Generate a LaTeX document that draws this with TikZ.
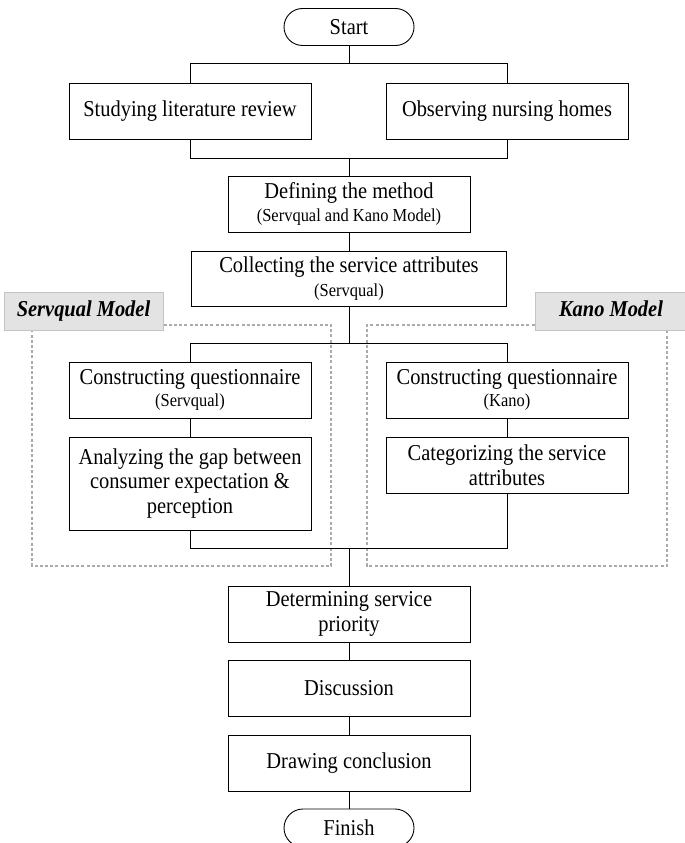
\documentclass[tikz,border=0pt]{standalone}
\usepackage{fontspec}
\setmainfont{Liberation Serif}[FakeStretch=0.9]
\usetikzlibrary{shapes.misc}
\definecolor{lblfill}{HTML}{E3E3E3}
\definecolor{lbldraw}{HTML}{C4C4C4}
\definecolor{dashgray}{HTML}{ABABAB}
\newcommand{\smalltxt}{\fontsize{18.3}{21}\selectfont}
\tikzset{
  every node/.style={font=\fontsize{22.7}{24.7}\selectfont},
  box/.style={draw, line width=0.9pt, rectangle, align=center, inner sep=0pt, minimum width=242pt, minimum height=56pt},
  term/.style={draw, line width=0.9pt, rounded rectangle, inner sep=0pt, minimum width=130pt, minimum height=37pt},
  conn/.style={line width=0.9pt},
  grp/.style={draw=dashgray, line width=1.2pt, dash pattern=on 3pt off 2.2pt},
  lbl/.style={draw=lbldraw, fill=lblfill, line width=1pt, inner sep=0pt, text height=15pt, text depth=5pt, font=\fontsize{22.7}{24.7}\selectfont\bfseries\itshape}
}
\begin{document}
\begin{tikzpicture}[x=1pt,y=-1pt]
\useasboundingbox (0,0) rectangle (685,843);
% nodes
\node[term] (start) at (349,27) {Start};
\node[box] (lit) at (190,111) {Studying literature review};
\node[box] (obs) at (507,111) {Observing nursing homes};
\node[box] (def) at (349,204) {Defining the method\\[-2pt]{\smalltxt (Servqual and Kano Model)}};
\node[box, minimum width=315pt, minimum height=55pt] (col) at (349,278.5) {Collecting the service attributes\\[0pt]{\smalltxt (Servqual)}};
\node[box] (cqs) at (190,390) {Constructing questionnaire\\[-2pt]{\smalltxt (Servqual)}};
\node[box] (cqk) at (507,390) {Constructing questionnaire\\[-2pt]{\smalltxt (Kano)}};
\node[box, minimum height=93pt] (ana) at (190,483.5) {Analyzing the gap between\\consumer expectation \&\\perception};
\node[box] (cat) at (507,465) {Categorizing the service\\attributes};
\node[box] (det) at (349,614) {Determining service\\priority};
\node[box] (dis) at (349,688) {Discussion};
\node[box] (con) at (349,763) {Drawing conclusion};
\node[term, minimum height=38pt] (fin) at (349,828) {Finish};
% group labels
\node[lbl, minimum width=159pt, minimum height=38pt] (lsv) at (83.5,311) {Servqual Model};
\node[lbl, minimum width=152pt, minimum height=38pt] (lka) at (611,311) {Kano Model};
% dashed groups
\coordinate (g1a) at (331,325);
\coordinate (g1b) at (331,566);
\coordinate (g1c) at (32,566);
\coordinate (g2a) at (367,325);
\coordinate (g2b) at (367,566);
\coordinate (g2c) at (667,566);
\draw[grp] (lsv.east |- g1a) -- (g1a) -- (g1b) -- (g1c) -- (g1c |- lsv.south);
\draw[grp] (lka.west |- g2a) -- (g2a) -- (g2b) -- (g2c) -- (g2c |- lka.south);
% connector junctions
\coordinate (j1) at (349,63);
\coordinate (j2) at (349,158);
\coordinate (j3) at (349,343);
\coordinate (j4) at (349,548);
\draw[conn] (start.south) -- (j1);
\draw[conn] (lit.north) -- (lit.north |- j1) -- (obs.north |- j1) -- (obs.north);
\draw[conn] (lit.south) -- (lit.south |- j2) -- (obs.south |- j2) -- (obs.south);
\draw[conn] (j2) -- (def.north);
\draw[conn] (def.south) -- (col.north);
\draw[conn] (col.south) -- (j3);
\draw[conn] (cqs.north) -- (cqs.north |- j3) -- (cqk.north |- j3) -- (cqk.north);
\draw[conn] (cqs.south) -- (ana.north);
\draw[conn] (cqk.south) -- (cat.north);
\draw[conn] (ana.south) -- (ana.south |- j4) -- (cat.south |- j4) -- (cat.south);
\draw[conn] (j4) -- (det.north);
\draw[conn] (det.south) -- (dis.north);
\draw[conn] (dis.south) -- (con.north);
\draw[conn] (con.south) -- (fin.north);
\end{tikzpicture}
\end{document}
